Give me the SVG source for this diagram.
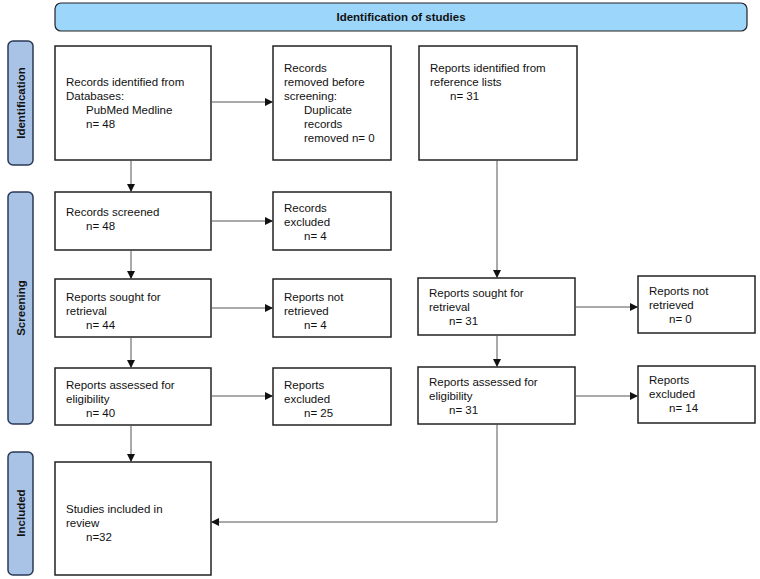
<svg xmlns="http://www.w3.org/2000/svg" width="760" height="579" viewBox="0 0 760 579">
<style>
.b{fill:#fff;stroke:#222;stroke-width:1.5}
.s{fill:#a9c3e6;stroke:#2a3a55;stroke-width:1.5}
text{font-family:"Liberation Sans",Arial,sans-serif;font-size:11.5px;fill:#111}
.h{font-weight:bold;font-size:11.5px}
.c{stroke:#555;stroke-width:1;fill:none;marker-end:url(#a)}
</style>
<defs><marker id="a" markerWidth="8" markerHeight="8" refX="7" refY="4" orient="auto" markerUnits="userSpaceOnUse"><path d="M0,0 L8,4 L0,8 z" fill="#111"/></marker></defs>
<rect width="760" height="579" fill="#fff"/>
<g id="banner"><rect x="55" y="3" width="692" height="28" rx="6" fill="#9dd6fb" stroke="#222" stroke-width="1.2"/><text class="h" x="401" y="21" text-anchor="middle">Identification of studies</text></g>
<g id="side-identification"><rect class="s" x="8" y="41" width="25" height="124" rx="5"/><text class="h" transform="translate(25,103) rotate(-90)" text-anchor="middle">Identification</text></g>
<g id="side-screening"><rect class="s" x="8" y="192" width="25" height="232" rx="5"/><text class="h" transform="translate(25,308) rotate(-90)" text-anchor="middle">Screening</text></g>
<g id="side-included"><rect class="s" x="8" y="452" width="25" height="123" rx="5"/><text class="h" transform="translate(25,513) rotate(-90)" text-anchor="middle">Included</text></g>
<g id="A"><rect class="b" x="55" y="46" width="156" height="114"/><text x="66" y="86">Records identified from</text><text x="66" y="100">Databases:</text><text x="86" y="114">PubMed Medline</text><text x="86" y="128">n= 48</text></g>
<g id="B"><rect class="b" x="273" y="46" width="118" height="114"/><text x="284" y="72">Records</text><text x="284" y="86">removed before</text><text x="284" y="100">screening:</text><text x="304" y="114">Duplicate</text><text x="304" y="128">records</text><text x="304" y="142">removed n= 0</text></g>
<g id="C"><rect class="b" x="419" y="46" width="158" height="114"/><text x="430" y="72">Reports identified from</text><text x="430" y="86">reference lists</text><text x="450" y="100">n= 31</text></g>
<g id="D"><rect class="b" x="55" y="192" width="156" height="58"/><text x="66" y="216">Records screened</text><text x="86" y="230">n= 48</text></g>
<g id="E"><rect class="b" x="273" y="192" width="118" height="58"/><text x="284" y="212">Records</text><text x="284" y="226">excluded</text><text x="304" y="240">n= 4</text></g>
<g id="F"><rect class="b" x="55" y="279" width="156" height="58"/><text x="66" y="301">Reports sought for</text><text x="66" y="315">retrieval</text><text x="86" y="329">n= 44</text></g>
<g id="G"><rect class="b" x="273" y="279" width="118" height="58"/><text x="284" y="301">Reports not</text><text x="284" y="315">retrieved</text><text x="304" y="329">n= 4</text></g>
<g id="H"><rect class="b" x="55" y="368" width="156" height="57"/><text x="66" y="389">Reports assessed for</text><text x="66" y="403">eligibility</text><text x="86" y="417">n= 40</text></g>
<g id="I"><rect class="b" x="273" y="368" width="118" height="57"/><text x="284" y="389">Reports</text><text x="284" y="403">excluded</text><text x="304" y="417">n= 25</text></g>
<g id="J"><rect class="b" x="55" y="462" width="156" height="113"/><text x="66" y="513">Studies included in</text><text x="66" y="527">review</text><text x="86" y="541">n=32</text></g>
<g id="K"><rect class="b" x="418" y="278" width="157" height="57"/><text x="429" y="297">Reports sought for</text><text x="429" y="311">retrieval</text><text x="449" y="325">n= 31</text></g>
<g id="L"><rect class="b" x="638" y="276" width="117" height="57"/><text x="649" y="295">Reports not</text><text x="649" y="309">retrieved</text><text x="669" y="323">n= 0</text></g>
<g id="M"><rect class="b" x="418" y="367" width="157" height="57"/><text x="429" y="386">Reports assessed for</text><text x="429" y="400">eligibility</text><text x="449" y="414">n= 31</text></g>
<g id="N"><rect class="b" x="638" y="366" width="117" height="57"/><text x="649" y="384">Reports</text><text x="649" y="398">excluded</text><text x="669" y="412">n= 14</text></g>
<g id="connectors">
<path class="c" d="M211,102 H272"/>
<path class="c" d="M131,160 V191"/>
<path class="c" d="M497,160 V277"/>
<path class="c" d="M211,221 H272"/>
<path class="c" d="M131,250 V278"/>
<path class="c" d="M211,308 H272"/>
<path class="c" d="M131,337 V367"/>
<path class="c" d="M211,396 H272"/>
<path class="c" d="M131,425 V461"/>
<path class="c" d="M575,307 H637"/>
<path class="c" d="M497,335 V366"/>
<path class="c" d="M575,396 H637"/>
<path class="c" d="M497,424 V522 H212"/>
</g>
</svg>
